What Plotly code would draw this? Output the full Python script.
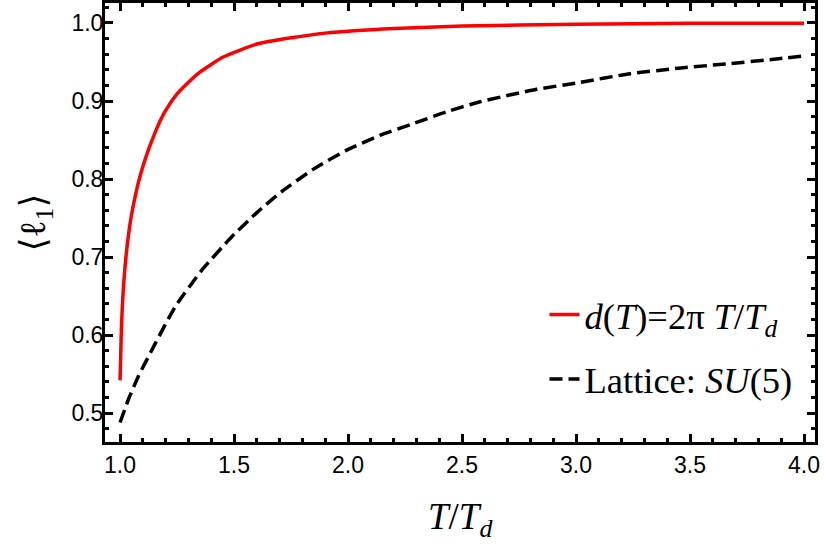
import plotly.graph_objects as go

# Model curve d(T) = 2*pi*T/T_d (red)
model_x = [1.000, 1.005, 1.010, 1.015, 1.022, 1.030, 1.040, 1.050, 1.065, 1.080, 1.100,
           1.125, 1.150, 1.175, 1.200, 1.250, 1.300, 1.350, 1.450, 1.600, 1.750, 1.900,
           2.200, 2.500, 3.000, 3.500, 4.000]
model_y = [0.542, 0.600, 0.637, 0.662, 0.688, 0.712, 0.735, 0.754, 0.776, 0.795, 0.816,
           0.838, 0.857, 0.874, 0.888, 0.909, 0.924, 0.937, 0.956, 0.973, 0.981, 0.987,
           0.993, 0.996, 0.9985, 0.9995, 0.9998]

# Lattice SU(5) (black dashed)
lat_x = [1.000, 1.040, 1.080, 1.154, 1.241, 1.358, 1.490, 1.600, 1.709, 1.850, 1.994,
         2.140, 2.286, 2.430, 2.579, 2.827, 3.000, 3.237, 3.450, 3.675, 3.850, 4.004]
lat_y = [0.488, 0.520, 0.547, 0.589, 0.636, 0.683, 0.726, 0.757, 0.784, 0.813, 0.837,
         0.856, 0.871, 0.886, 0.899, 0.915, 0.923, 0.935, 0.942, 0.948, 0.953, 0.958]

x_ticks = [1.0, 1.5, 2.0, 2.5, 3.0, 3.5, 4.0]
y_ticks = [0.5, 0.6, 0.7, 0.8, 0.9, 1.0]

fig = go.Figure()
fig.add_trace(go.Scatter(
    x=model_x, y=model_y, mode="lines",
    line=dict(color="#ff0000", width=3.5, shape="spline", smoothing=0.5),
    name="<i>d</i>(<i>T</i>)=2π <i>T</i>/<i>T</i><sub><i>d</i></sub>",
    legendgroup="a",
))
fig.add_trace(go.Scatter(
    x=lat_x, y=lat_y, mode="lines",
    line=dict(color="black", width=3.5, dash="13px,6px", shape="spline", smoothing=0.5),
    name="Lattice: <i>SU</i>(5)",
    legendgroup="b",
))

axis_common = dict(
    showline=True, linecolor="black", linewidth=3, mirror="allticks",
    ticks="inside", ticklen=8, tickwidth=2.5, tickcolor="black",
    showgrid=False, zeroline=False, automargin=False,
    tickfont=dict(family="Liberation Sans, Arial, sans-serif", size=23, color="black"),
)

fig.update_xaxes(
    range=[0.934, 4.048], tickvals=x_ticks, ticktext=[f"{v:.1f}" for v in x_ticks],
    minor=dict(ticks="inside", ticklen=4, tickwidth=2.5, tickcolor="black", dtick=0.1, tick0=1.0),
    **axis_common,
)
fig.update_yaxes(
    range=[0.463, 1.0256], tickvals=y_ticks, ticktext=[f"{v:.1f}" for v in y_ticks],
    minor=dict(ticks="inside", ticklen=4, tickwidth=2.5, tickcolor="black", dtick=0.02, tick0=0.5),
    ticklabelstandoff=-6,
    title=dict(text="⟨ℓ<sub>1</sub>⟩",
               font=dict(family="Liberation Serif, DejaVu Serif, serif", size=36, color="black")),
    **axis_common,
)

# x-axis title as a paper-anchored annotation (to place it like the reference)
fig.add_annotation(
    text="<i>T</i>/<i>T</i><sub><i>d</i></sub>",
    xref="paper", yref="paper", x=0.5, y=-0.176,
    xanchor="center", yanchor="middle", showarrow=False,
    font=dict(family="Liberation Serif, Times New Roman, serif", size=37, color="black"),
)

fig.update_layout(
    width=824, height=545,
    margin=dict(l=105, r=9, t=3, b=103),
    paper_bgcolor="white", plot_bgcolor="white",
    showlegend=True,
    legend=dict(
        x=0.619, y=0.359, xanchor="left", yanchor="top",
        bgcolor="rgba(0,0,0,0)",
        font=dict(family="Liberation Serif, Times New Roman, serif", size=36.5, color="black"),
        tracegroupgap=14, itemwidth=30,
    ),
)

fig.write_html("out.html", config={"displayModeBar": False},
               post_script="document.body.style.margin='0';")
